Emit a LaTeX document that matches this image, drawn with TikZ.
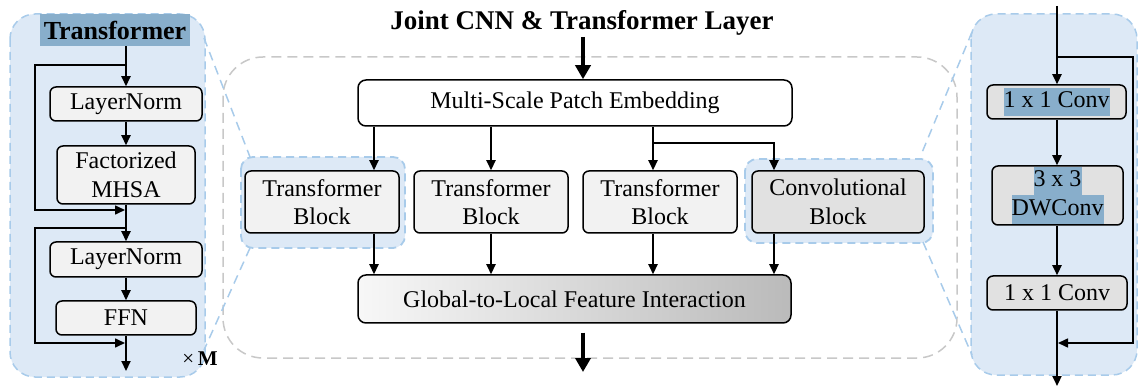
\documentclass[tikz,border=0pt]{standalone}
\usepackage{fontspec}
\setmainfont{Liberation Serif}
\usetikzlibrary{arrows.meta,calc}

\definecolor{panelfill}{HTML}{DDE9F6}
\definecolor{paneldash}{HTML}{A8CBEA}
\definecolor{hlcol}{HTML}{88AECB}
\definecolor{graydash}{HTML}{C8C8C8}
\definecolor{boxfill}{HTML}{F2F2F2}
\definecolor{convfill}{HTML}{E1E1E1}

% text with a highlighted background, one line at a time
\newcommand{\hlt}[1]{{\setlength{\fboxsep}{0pt}\colorbox{hlcol}{\strut#1}}}

\begin{document}
\begin{tikzpicture}[x=1pt,y=-1pt,
  box/.style={draw=black, line width=1.5pt, rounded corners=6pt, fill=boxfill,
    inner sep=0pt, align=center, font=\fontsize{24}{28.5}\selectfont},
  arr/.style={line width=2.2pt, -{Triangle[length=10pt,width=9pt]}},
  bigarr/.style={line width=4.5pt, -{Triangle[length=14pt,width=15pt]}},
  rail/.style={line width=1.6pt},
  panel/.style={fill=panelfill, draw=paneldash, line width=1.5pt,
    dash pattern=on 8pt off 5pt, rounded corners=25pt},
  hilite/.style={fill=panelfill, draw=paneldash, line width=1.8pt,
    dash pattern=on 8pt off 5pt, rounded corners=12pt},
  zoomline/.style={draw=paneldash, line width=1.5pt, dash pattern=on 9pt off 6pt},
  layer/.style={draw=graydash, line width=1.5pt, dash pattern=on 10pt off 6pt,
    rounded corners=40pt}]
\useasboundingbox (0,0) rectangle (1138,387);

% ---------- outer layer frame ----------
\draw[layer] (223,57) rectangle (957,358);

% ---------- side panels ----------
\draw[panel] (10,14) rectangle (205,377);
\draw[panel] (971,14) rectangle (1137,375);

% ---------- highlighted blocks in the layer ----------
\draw[hilite] (241,157) rectangle (405,248);
\draw[hilite] (745,159) rectangle (933,243);

% ---------- zoom lines ----------
\coordinate (zl1) at (204,38);
\coordinate (zl2) at (250,157);
\coordinate (zl3) at (250,248);
\coordinate (zl4) at (204,350);
\coordinate (zr1) at (972,32);
\coordinate (zr2) at (921,155);
\coordinate (zr3) at (923,242);
\coordinate (zr4) at (972,355);
\draw[zoomline] (zl1) -- (zl2);
\draw[zoomline] (zl3) -- (zl4);
\draw[zoomline] (zr1) -- (zr2);
\draw[zoomline] (zr3) -- (zr4);

% ---------- left panel: transformer block ----------
\node[fill=hlcol, minimum width=150pt, minimum height=32pt, inner sep=0pt,
  font=\bfseries\fontsize{26}{30}\selectfont] (ttl) at (115,30) {Transformer};
\node[box, minimum width=152pt, minimum height=34pt] (ln1) at (126,104) {LayerNorm};
\node[box, minimum width=138pt, minimum height=58pt] (mhsa) at (126,175) {Factorized\\MHSA};
\node[box, minimum width=152pt, minimum height=35pt] (ln2) at (126,259.5) {LayerNorm};
\node[box, minimum width=140pt, minimum height=34pt] (ffn) at (126,318) {FFN};
\node[font=\fontsize{21}{24}\selectfont] (xm) at (200,359) {×\,\textbf{M}};

\coordinate (r1s) at (126,65);
\coordinate (r1a) at (35,65);
\coordinate (r1b) at (35,210);
\coordinate (r1e) at (125,210);
\coordinate (r2s) at (126,228);
\coordinate (r2a) at (35,228);
\coordinate (r2b) at (35,343);
\coordinate (r2e) at (125,343);
\coordinate (lout) at (126,371);

\draw[arr] (ln1.north |- ttl.south) -- (ln1.north);
\draw[arr] (ln1) -- (mhsa);
\draw[arr] (mhsa) -- (ln2);
\draw[arr] (ln2) -- (ffn);
\draw[arr] (ffn) -- (lout);
\draw[rail, -{Triangle[length=10pt,width=9pt]}] (r1s) -- (r1a) -- (r1b) -- (r1e);
\draw[rail, -{Triangle[length=10pt,width=9pt]}] (r2s) -- (r2a) -- (r2b) -- (r2e);

% ---------- middle: joint layer ----------
\node[font=\bfseries\fontsize{27}{32}\selectfont] (title) at (582,23) {Joint CNN \& Transformer Layer};
\node[box, fill=white, rounded corners=8pt, minimum width=434pt, minimum height=46pt]
  (mspe) at (575,103) {Multi-Scale Patch Embedding};
\node[box, minimum width=154pt, minimum height=62pt] (tb1) at (322,202) {Transformer\\Block};
\node[box, minimum width=154pt, minimum height=62pt] (tb2) at (491,202) {Transformer\\Block};
\node[box, minimum width=154pt, minimum height=62pt] (tb3) at (660,202) {Transformer\\Block};
\node[box, fill=convfill, minimum width=172pt, minimum height=62pt] (cb) at (838,202) {Convolutional\\Block};
\node[box, rounded corners=8pt, left color=black!3, right color=black!27,
  minimum width=433pt, minimum height=48pt] (glfi) at (574.5,299) {Global-to-Local Feature Interaction};

\coordinate (in0) at (583,37);
\coordinate (out0) at (583,372);
\coordinate (c1) at (374,0);
\coordinate (c2) at (491,0);
\coordinate (c3) at (653,0);
\coordinate (c4) at (774,0);
\coordinate (br) at (653,143);

\draw[bigarr] (in0) -- (in0 |- mspe.north);
\draw[arr] (c1 |- mspe.south) -- (c1 |- tb1.north);
\draw[arr] (c2 |- mspe.south) -- (c2 |- tb2.north);
\draw[arr] (c3 |- mspe.south) -- (c3 |- tb3.north);
\draw[arr] (br) -| (c4 |- cb.north);
\draw[arr] (c1 |- tb1.south) -- (c1 |- glfi.north);
\draw[arr] (c2 |- tb2.south) -- (c2 |- glfi.north);
\draw[arr] (c3 |- tb3.south) -- (c3 |- glfi.north);
\draw[arr] (c4 |- cb.south) -- (c4 |- glfi.north);
\draw[bigarr] (out0 |- glfi.south) ++(0,9) -- (out0);

% ---------- right panel: convolutional block ----------
\node[box, fill=convfill, minimum width=139pt, minimum height=34pt] (cv1) at (1056.5,102) {\hlt{1 x 1 Conv}};
\node[box, fill=convfill, minimum width=131pt, minimum height=59pt] (dw) at (1057.5,195.5) {\hlt{3 x 3}\\\hlt{DWConv}};
\node[box, fill=convfill, minimum width=140pt, minimum height=34pt] (cv2) at (1057,293) {1 x 1 Conv};

\coordinate (rin) at (1057,6);
\coordinate (rs) at (1057,57);
\coordinate (ra) at (1133,57);
\coordinate (rb) at (1133,343);
\coordinate (re) at (1058,343);
\coordinate (rout) at (1057,386);

\draw[arr] (rin) -- (rin |- cv1.north);
\draw[arr] (rin |- cv1.south) -- (rin |- dw.north);
\draw[arr] (rin |- dw.south) -- (rin |- cv2.north);
\draw[arr] (rin |- cv2.south) -- (rout);
\draw[rail, -{Triangle[length=10pt,width=9pt]}] (rs) -- (ra) -- (rb) -- (re);
\end{tikzpicture}
\end{document}
